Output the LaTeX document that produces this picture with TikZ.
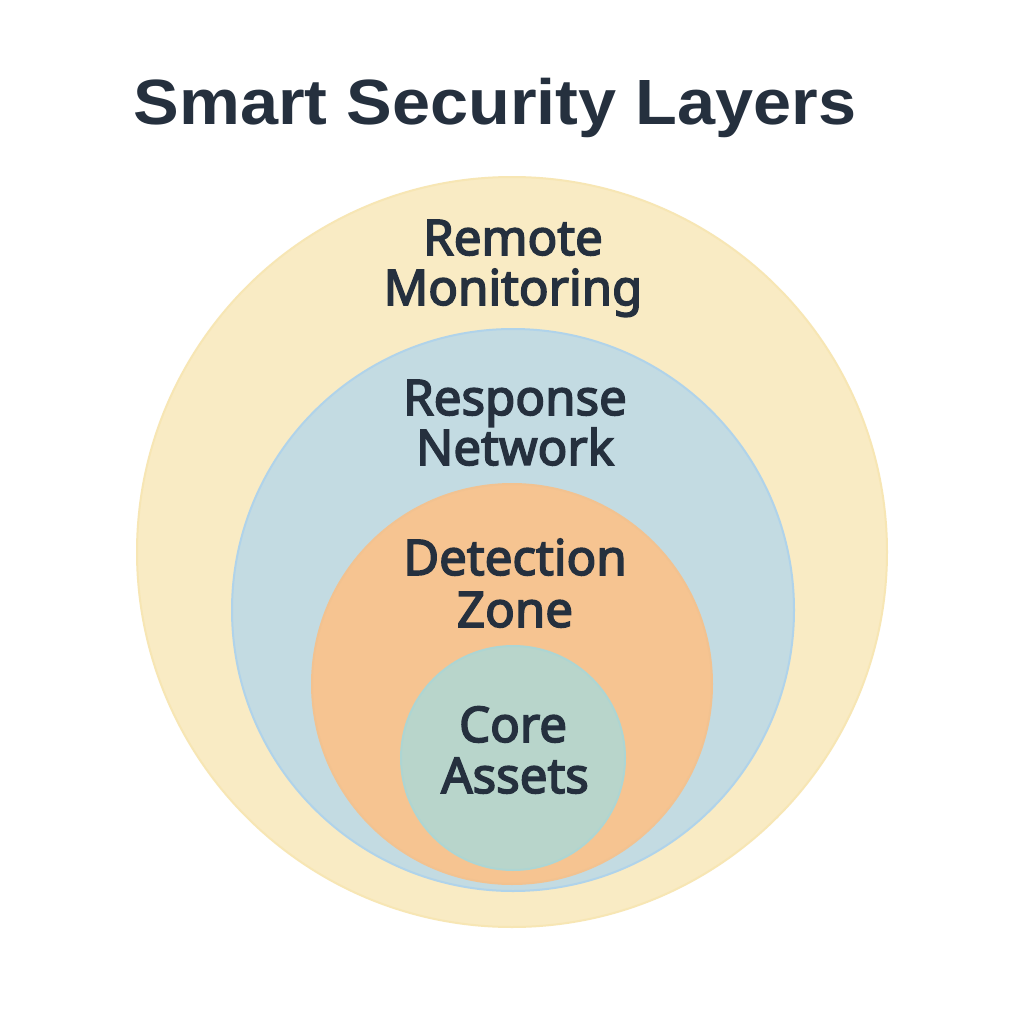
\documentclass[tikz,border=0pt]{standalone}
\usepackage{fontspec}
\setmainfont{Liberation Sans}
\newfontfamily\labfont{Noto Sans}[FakeBold=3.2]
\usetikzlibrary{positioning}
\definecolor{ink}{HTML}{25303E}
\definecolor{ylfill}{HTML}{F9EBC4}
\definecolor{yledge}{HTML}{F7E6B4}
\definecolor{blfill}{HTML}{C3DBE2}
\definecolor{bledge}{HTML}{B0D3EA}
\definecolor{orfill}{HTML}{F6C491}
\definecolor{oredge}{HTML}{F2C290}
\definecolor{grfill}{HTML}{B8D5CB}
\definecolor{gredge}{HTML}{ADD5D3}
\tikzset{
  layer/.style={circle, inner sep=0pt, line width=0.2mm},
  lab/.style={anchor=base, inner sep=0pt, text=ink, font=\labfont\fontsize{14}{14}\selectfont},
  ttl/.style={anchor=base, inner sep=0pt, text=ink, font=\bfseries\fontsize{18.2}{18}\selectfont}
}
\begin{document}
\begin{tikzpicture}[x=0.1mm, y=-0.1mm]
\useasboundingbox (0,0) rectangle (1024,1024);
\fill[white] (0,0) rectangle (1024,1024);
\node[ttl] (title) at (495,125) {\scalebox{1.07}[1]{Smart Security Layers}};
\node[layer, fill=ylfill, draw=yledge, minimum size=75mm] (outer) at (512,552) {};
\node[layer, fill=blfill, draw=bledge, minimum size=56.2mm] (resp) at (513,610) {};
\node[layer, fill=orfill, draw=oredge, minimum size=40mm] (det) at (512,684) {};
\node[layer, fill=grfill, draw=gredge, minimum size=22.4mm] (core) at (513,758) {};
\node[lab] (l1a) at (513,255) {Remote};
\node[lab] (l1b) at (513,305) {Monitoring};
\node[lab] (l2a) at (515,415) {Response};
\node[lab] (l2b) at (515,465) {Network};
\node[lab] (l3a) at (515,575) {Detection};
\node[lab] (l3b) at (515,627) {Zone};
\node[lab] (l4a) at (513,742) {Core};
\node[lab] (l4b) at (515,793) {Assets};
\end{tikzpicture}
\end{document}
